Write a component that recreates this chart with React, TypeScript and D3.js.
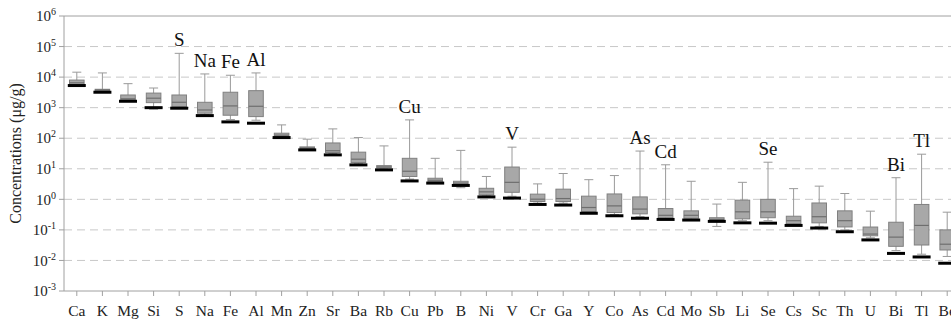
import * as d3 from "d3";

const elements = ["Ca", "K", "Mg", "Si", "S", "Na", "Fe", "Al", "Mn", "Zn", "Sr", "Ba", "Rb", "Cu", "Pb", "B", "Ni", "V", "Cr", "Ga", "Y", "Co", "As", "Cd", "Mo", "Sb", "Li", "Se", "Cs", "Sc", "Th", "U", "Bi", "Tl", "Be"];
const maxVals = [14500, 13700, 6100, 4400, 60000, 12700, 11500, 13700, 273, 93, 202, 105, 56, 398, 22, 40, 5.6, 51, 3.2, 7, 4.4, 6, 38, 13.5, 3.9, 0.7, 3.6, 16.4, 2.24, 2.7, 1.55, 0.41, 5.1, 30, 0.38];
const q3Vals = [8000, 4000, 2600, 3000, 2600, 1500, 3200, 3600, 146, 52, 70, 35, 12.7, 22, 4.9, 3.9, 2.3, 11.4, 1.48, 2.15, 1.27, 1.5, 1.2, 0.5, 0.42, 0.25, 0.94, 1.0, 0.28, 0.76, 0.42, 0.124, 0.178, 0.68, 0.1];
const medianVals = [6500, 3800, 1950, 2040, 1500, 840, 1140, 1110, 126, 48, 39, 20.6, 11.5, 8.3, 4.2, 3.4, 1.76, 3.6, 1.01, 1.06, 0.54, 0.61, 0.48, 0.3, 0.3, 0.22, 0.39, 0.39, 0.2, 0.27, 0.2, 0.073, 0.058, 0.14, 0.034];
const q1Vals = [5600, 3500, 1800, 1460, 1080, 660, 566, 510, 113, 46, 34, 16, 10.7, 5.6, 3.8, 3.1, 1.4, 1.7, 0.85, 0.85, 0.4, 0.37, 0.335, 0.25, 0.24, 0.2, 0.23, 0.25, 0.16, 0.17, 0.125, 0.064, 0.029, 0.032, 0.022];
const minVals = [5600, 3500, 1800, 890, 1000, 600, 408, 388, 110, 44, 31, 14.5, 10, 4.6, 3.6, 2.4, 1.3, 1.26, 0.75, 0.75, 0.38, 0.32, 0.27, 0.23, 0.22, 0.13, 0.2, 0.2, 0.15, 0.13, 0.1, 0.055, 0.021, 0.016, 0.0135];
const barVals = [5300, 3200, 1620, 1000, 960, 550, 342, 310, 105, 41.5, 28.5, 13.4, 9.2, 4.0, 3.4, 2.85, 1.2, 1.1, 0.68, 0.65, 0.35, 0.29, 0.24, 0.22, 0.21, 0.19, 0.17, 0.166, 0.14, 0.115, 0.087, 0.047, 0.017, 0.013, 0.0081];
const labelled = ["S", "Na", "Fe", "Al", "Cu", "V", "As", "Cd", "Se", "Bi", "Tl"];
const exponents = [-3, -2, -1, 0, 1, 2, 3, 4, 5, 6];

const W = 951;
const H = 323;
const MARGIN = { top: 16, left: 64, bottom: 32 };
const FONT = "Liberation Serif";

export default function App() {
  const plotBottom = H - MARGIN.bottom;
  const x = d3.scaleBand<string>()
    .domain(elements)
    .range([MARGIN.left, MARGIN.left + elements.length * 25.6])
    .paddingInner(0.43)
    .paddingOuter(0.215);
  const y = d3.scaleLog().domain([1e-3, 1e6]).range([plotBottom, MARGIN.top]);

  const bw = x.bandwidth();
  const cx = (e: string) => (x(e) ?? 0) + bw / 2;

  return (
    <svg width={W} height={H} style={{ position: "absolute", left: 0, top: 0 }}>
      <g fontFamily={FONT}>
        {/* grid */}
        {exponents.slice(1, -1).map(p => (
          <line key={p} x1={MARGIN.left} x2={W} y1={y(10 ** p)} y2={y(10 ** p)}
            stroke="#c8c8c8" strokeDasharray="8,5" strokeWidth={1} />
        ))}
        <line x1={MARGIN.left} x2={W} y1={y(1e6)} y2={y(1e6)} stroke="#a0a0a0" />
        <line x1={MARGIN.left} x2={W} y1={plotBottom} y2={plotBottom} stroke="#a0a0a0" />
        <line x1={MARGIN.left} x2={MARGIN.left} y1={MARGIN.top} y2={plotBottom} stroke="#a0a0a0" />

        {/* y ticks */}
        {exponents.map(p => (
          <g key={p} transform={`translate(0,${y(10 ** p)})`}>
            <line x1={MARGIN.left - 5} x2={MARGIN.left} stroke="#a0a0a0" />
            <text x={MARGIN.left - 8} dy="0.35em" textAnchor="end" fontSize={15} fill="#222" fontFamily={FONT}>
              10<tspan dy="-6" fontSize={10}>{p}</tspan>
            </text>
          </g>
        ))}
        <text transform={`translate(21,${(MARGIN.top + plotBottom) / 2}) rotate(-90)`}
          textAnchor="middle" fontSize={16} fill="#222" fontFamily={FONT}>Concentrations (μg/g)</text>

        {/* x ticks */}
        {elements.map(e => (
          <g key={e} transform={`translate(${cx(e)},0)`}>
            <line y1={plotBottom} y2={plotBottom + 5} stroke="#a0a0a0" />
            <text y={plotBottom + 25} textAnchor="middle" fontSize={15.5} fill="#222" fontFamily={FONT}>{e}</text>
          </g>
        ))}

        {/* boxes */}
        {elements.map((e, i) => {
          const c = cx(e);
          const x0 = x(e) ?? 0;
          return (
            <g key={e}>
              <line x1={c} x2={c} y1={y(maxVals[i])} y2={y(minVals[i])} stroke="#9a9a9a" />
              <line x1={c - 4.5} x2={c + 4.5} y1={y(maxVals[i])} y2={y(maxVals[i])} stroke="#9a9a9a" />
              <line x1={c - 4.5} x2={c + 4.5} y1={y(minVals[i])} y2={y(minVals[i])} stroke="#9a9a9a" />
              <rect x={x0} width={bw} y={y(q3Vals[i])} height={Math.max(1, y(q1Vals[i]) - y(q3Vals[i]))}
                fill="#a8a8a8" stroke="#808080" strokeWidth={1} />
              <line x1={x0} x2={x0 + bw} y1={y(medianVals[i])} y2={y(medianVals[i])} stroke="#6e6e6e" strokeWidth={1.2} />
              <line x1={c - 9} x2={c + 9} y1={y(barVals[i])} y2={y(barVals[i])} stroke="#000" strokeWidth={3} />
              {labelled.includes(e) && (
                <text x={c} y={y(maxVals[i]) - 7} textAnchor="middle" fontSize={19} fill="#111" fontFamily={FONT}>{e}</text>
              )}
            </g>
          );
        })}
      </g>
    </svg>
  );
}
